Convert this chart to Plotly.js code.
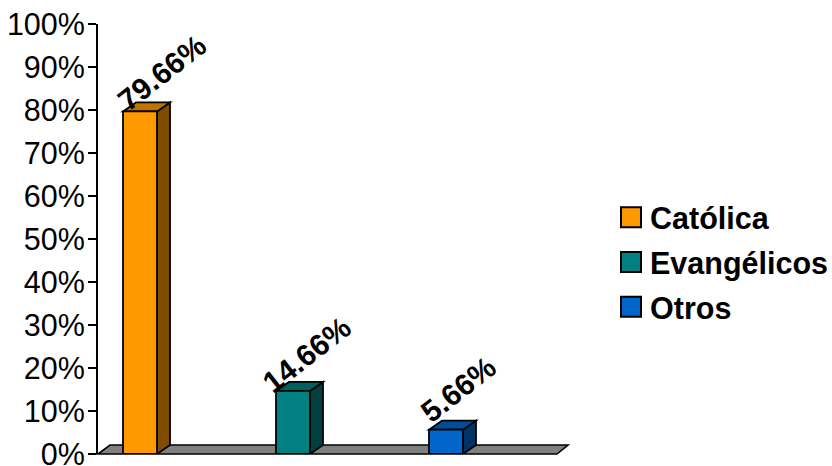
<!DOCTYPE html>
<html>
<head>
<meta charset="utf-8">
<script src="https://cdn.plot.ly/plotly-3.0.1.min.js"></script>
<style>
  html, body { margin: 0; padding: 0; background: #ffffff; }
  #chart { width: 832px; height: 466px; }
</style>
</head>
<body>
<div id="chart"></div>
<script>
// Religious affiliation shares
const categories = ['Católica', 'Evangélicos', 'Otros'];
const shares = [0.7966, 0.1466, 0.0566];

// Front / top / side face colours of each 3D column
const frontColors = ['#FF9900', '#008080', '#0066CC'];
const topColors   = ['#C07300', '#006060', '#004D99'];
const sideColors  = ['#7F4C00', '#004040', '#003366'];

// Value axis ticks
const tickValues = [0, 0.1, 0.2, 0.3, 0.4, 0.5, 0.6, 0.7, 0.8, 0.9, 1.0];
const tickLabels = ['0%', '10%', '20%', '30%', '40%', '50%', '60%', '70%', '80%', '90%', '100%'];

// ---- geometry ----
const W = 832, H = 466;
const margin = { l: 98, r: 275, t: 24, b: 12, pad: 0, autoexpand: false };
const plotW = W - margin.l - margin.r;
const plotH = H - margin.t - margin.b;
const pxPerCat = 153;                       // horizontal spacing of the columns
const firstOffsetPx = 42;                   // first column centre from the axis
const xRange = [-firstOffsetPx / pxPerCat, (plotW - firstOffsetPx) / pxPerCat];
const barWidth = 34 / pxPerCat;
const depthXPx = 13, depthYPx = 9;          // oblique depth of columns and floor
const dx = depthXPx / pxPerCat;
const dy = depthYPx / plotH;                // y range is 0..1

const FONT = 'Liberation Sans, Arial, Helvetica, sans-serif';
const OUTLINE = { color: '#000000', width: 1.8 };

// Front faces: one bar trace per series
const traces = categories.map((name, i) => ({
  type: 'bar',
  name: name,
  x: [i],
  y: [shares[i]],
  width: [barWidth],
  marker: { color: frontColors[i], line: OUTLINE },
  hoverinfo: 'skip',
  legendgroup: name,
  cliponaxis: false
}));

// Grey floor slab under the columns
const shapes = [{
  type: 'path',
  xref: 'paper', yref: 'paper',
  path: `M0,0 L1,0 L${1 + 11 / plotW},${depthYPx / plotH} L${12 / plotW},${depthYPx / plotH} Z`,
  fillcolor: '#808080',
  line: { color: '#000000', width: 1.6 },
  layer: 'below'
}];

// Side and top faces of each column, built from the data values
shares.forEach((v, i) => {
  const xl = i - barWidth / 2;
  const xr = i + barWidth / 2;
  shapes.push({
    type: 'path', xref: 'x', yref: 'y', layer: 'below',
    path: `M${xr},0 L${xr + dx},${dy} L${xr + dx},${v + dy} L${xr},${v} Z`,
    fillcolor: sideColors[i], line: OUTLINE
  });
  shapes.push({
    type: 'path', xref: 'x', yref: 'y', layer: 'below',
    path: `M${xl},${v} L${xl + dx},${v + dy} L${xr + dx},${v + dy} L${xr},${v} Z`,
    fillcolor: topColors[i], line: OUTLINE
  });
});

// Rotated value labels above the columns
const labelShiftX = [22, 14, 12];
const labelShiftY = [39, 36, 40];
const annotations = shares.map((v, i) => ({
  x: i, y: v, xref: 'x', yref: 'y',
  text: '<b>' + (v * 100).toFixed(2) + '%</b>',
  showarrow: false,
  textangle: -38,
  xanchor: 'center', yanchor: 'middle',
  xshift: labelShiftX[i], yshift: labelShiftY[i],
  font: { family: FONT, size: 30, color: '#000000' }
}));

const layout = {
  width: W, height: H,
  margin: margin,
  paper_bgcolor: '#ffffff',
  plot_bgcolor: 'rgba(0,0,0,0)',
  barmode: 'overlay',
  showlegend: true,
  font: { family: FONT, color: '#000000' },
  xaxis: {
    type: 'linear',
    range: xRange,
    visible: false,
    fixedrange: true
  },
  yaxis: {
    range: [0, 1],
    tickmode: 'array',
    tickvals: tickValues,
    ticktext: tickLabels,
    ticks: 'outside',
    ticklen: 8,
    tickwidth: 2,
    tickcolor: '#000000',
    ticklabelstandoff: -3,
    ticklabeloverflow: 'allow',
    showline: true,
    linecolor: '#000000',
    linewidth: 2,
    showgrid: false,
    zeroline: false,
    tickfont: { family: FONT, size: 30.5, color: '#000000' },
    fixedrange: true
  },
  legend: {
    x: (610 - margin.l) / plotW,
    xanchor: 'left',
    y: (H - margin.b - 191) / plotH,
    yanchor: 'top',
    font: { family: FONT, size: 30.5, color: '#000000', weight: 'bold' },
    bgcolor: 'rgba(0,0,0,0)',
    borderwidth: 0,
    tracegroupgap: 2
  },
  shapes: shapes,
  annotations: annotations
};

Plotly.newPlot('chart', traces, layout, { staticPlot: true, displayModeBar: false }).then(() => {
  // Enlarge the legend swatches to 20px squares, set close to the text
  document.querySelectorAll('.legend .legendpoints path').forEach(p => {
    p.setAttribute('d', 'M11,10H-9V-10H11Z');
    p.style.strokeWidth = '2px';
  });
});
</script>
</body>
</html>
